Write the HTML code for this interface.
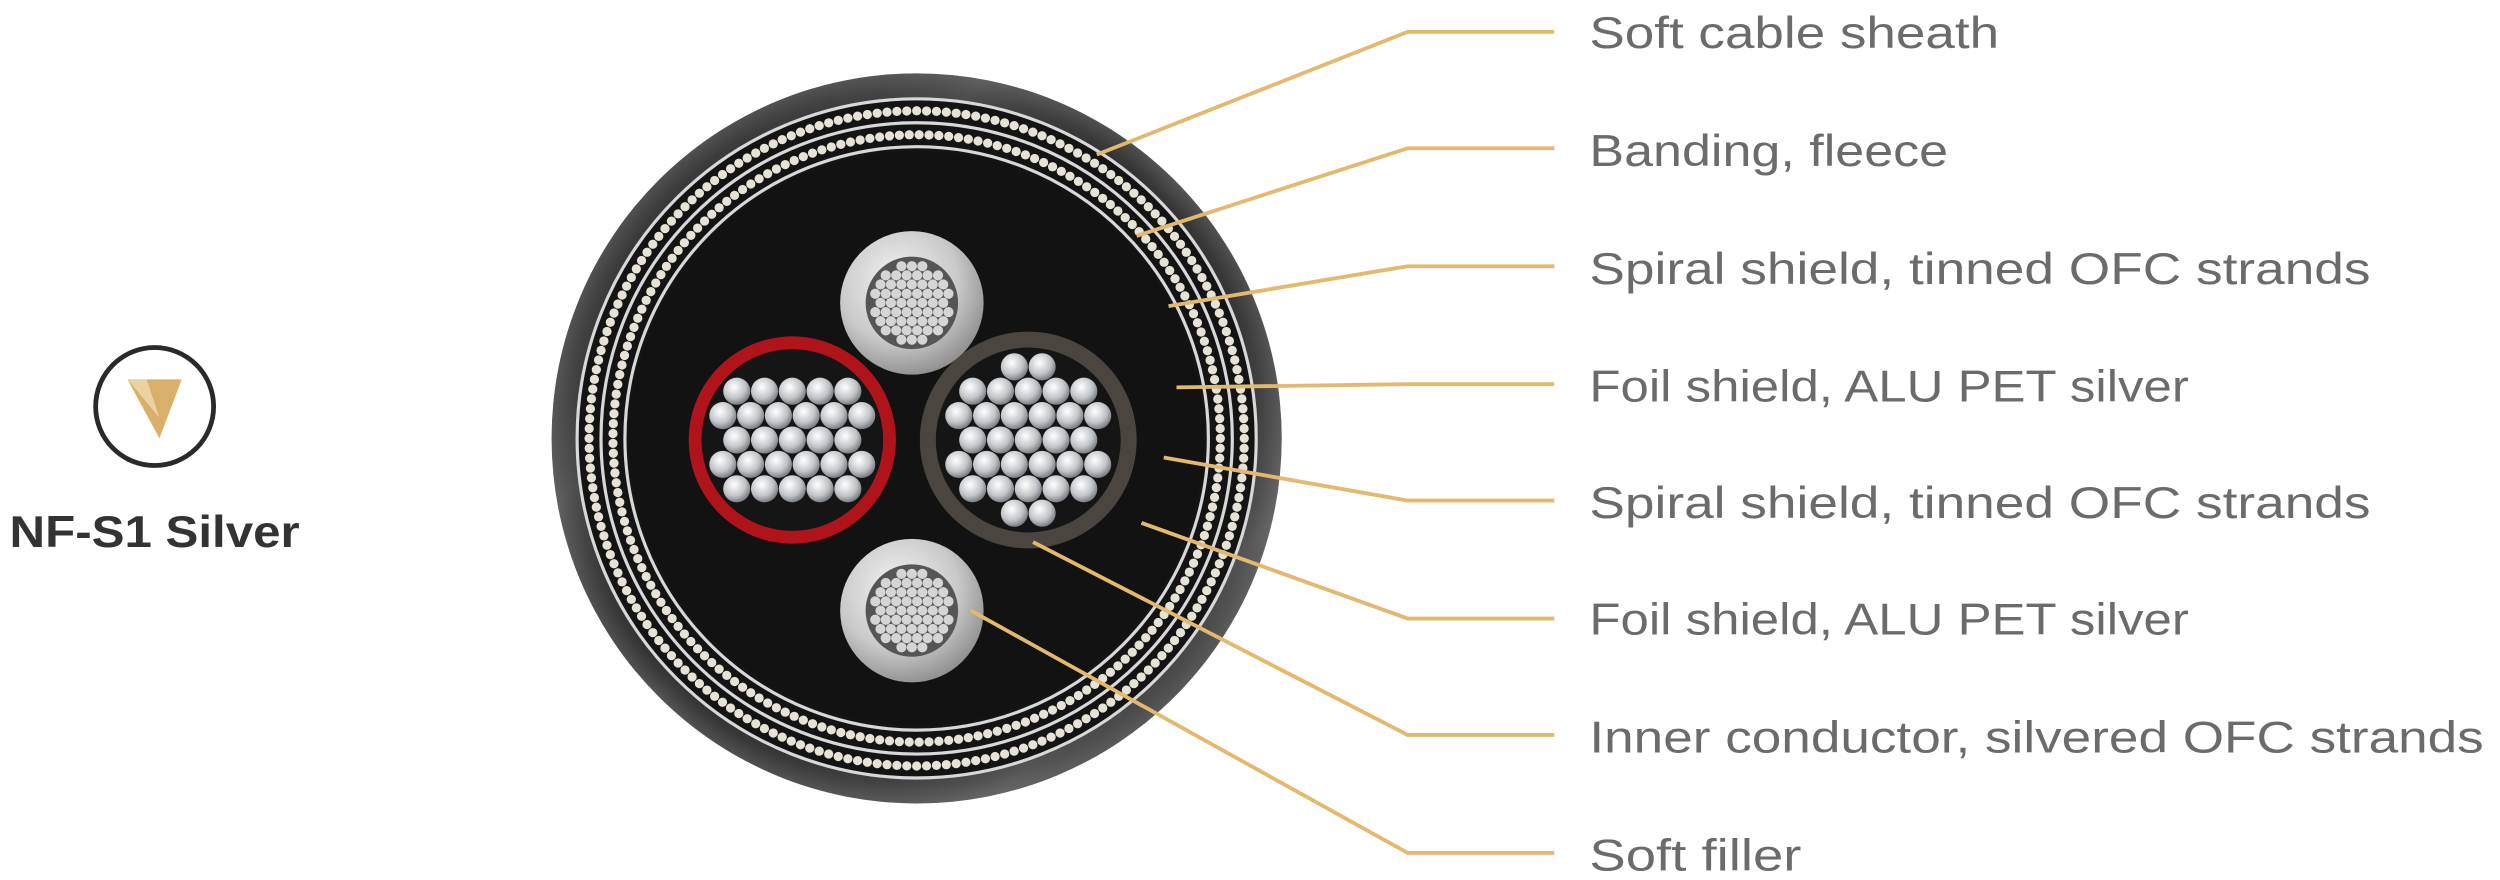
<!DOCTYPE html>
<html><head><meta charset="utf-8"><style>
html,body{margin:0;padding:0;background:#fff;}
svg{display:block;}
text{font-family:"Liberation Sans",sans-serif;}
</style></head><body>
<svg id="s" width="2500" height="880" viewBox="0 0 1568.2 552" preserveAspectRatio="none" xmlns="http://www.w3.org/2000/svg">
<defs>
<radialGradient id="sheath" cx="0.5" cy="0.5" r="0.5">
<stop offset="0.85" stop-color="#1c1c1c"/><stop offset="0.95" stop-color="#3a3a3a"/><stop offset="1" stop-color="#555"/>
</radialGradient>
<linearGradient id="sheen" x1="0" y1="0" x2="1" y2="1">
<stop offset="0" stop-color="#000" stop-opacity="0"/><stop offset="0.3" stop-color="#777" stop-opacity="0.35"/><stop offset="0.5" stop-color="#000" stop-opacity="0"/><stop offset="0.8" stop-color="#888" stop-opacity="0.35"/><stop offset="1" stop-color="#000" stop-opacity="0"/>
</linearGradient>
<radialGradient id="silver" cx="0.4" cy="0.35" r="0.7">
<stop offset="0" stop-color="#f4f4f4"/><stop offset="0.6" stop-color="#c9c9c9"/><stop offset="1" stop-color="#8a8a8a"/>
</radialGradient>
<radialGradient id="strand" cx="0.4" cy="0.35" r="0.7">
<stop offset="0" stop-color="#ffffff"/><stop offset="0.6" stop-color="#c0c4c8"/><stop offset="1" stop-color="#6d7075"/>
</radialGradient>
</defs>
<!-- logo -->
<circle cx="97" cy="255" r="37" fill="#fff" stroke="#2a2a2a" stroke-width="3"/>
<polygon points="80,238 114,238 100,275" fill="#d9b06a"/>
<polygon points="80,238 92,238 100,262" fill="#ecd2a0"/>
<text x="6" y="343" font-size="28" font-weight="bold" fill="#333" textLength="182" lengthAdjust="spacingAndGlyphs">NF-S1 Silver</text>
<!-- cable -->
<circle cx="575" cy="275" r="229" fill="url(#sheath)"/>
<circle cx="575" cy="275" r="229" fill="url(#sheen)"/>
<circle cx="575" cy="275" r="214" fill="#141414"/>
<g id="rings"></g>
<circle cx="575" cy="275" r="180" fill="#121212"/>
<g id="cores"></g>
<!-- leaders -->
<g stroke="#e3b86f" stroke-width="2.4" fill="none">
<polyline points="975,20 883,20 688,97"/>
<polyline points="975,93 883,93 713,148"/>
<polyline points="975,167 883,167 733,192"/>
<polyline points="975,241 883,241 738,243"/>
<polyline points="975,314 883,314 730,287"/>
<polyline points="975,388 883,388 716,328"/>
<polyline points="975,461 883,461 648,340"/>
<polyline points="975,535 883,535 609,383"/>
</g>
<g font-size="28" fill="#6b6b6b" lengthAdjust="spacingAndGlyphs">
<text x="997" y="30" textLength="257" lengthAdjust="spacingAndGlyphs">Soft cable sheath</text>
<text x="997" y="104" textLength="225" lengthAdjust="spacingAndGlyphs">Banding, fleece</text>
<text x="997" y="178" textLength="490" lengthAdjust="spacingAndGlyphs">Spiral shield, tinned OFC strands</text>
<text x="997" y="252" textLength="376" lengthAdjust="spacingAndGlyphs">Foil shield, ALU PET silver</text>
<text x="997" y="325" textLength="490" lengthAdjust="spacingAndGlyphs">Spiral shield, tinned OFC strands</text>
<text x="997" y="398" textLength="376" lengthAdjust="spacingAndGlyphs">Foil shield, ALU PET silver</text>
<text x="997" y="472" textLength="561" lengthAdjust="spacingAndGlyphs">Inner conductor, silvered OFC strands</text>
<text x="997" y="546" textLength="133" lengthAdjust="spacingAndGlyphs">Soft filler</text>
</g>
</svg>
<script>
var NS="http://www.w3.org/2000/svg";
function el(p,t,a){var e=document.createElementNS(NS,t);for(var k in a)e.setAttribute(k,a[k]);p.appendChild(e);return e;}
var cx=575,cy=275;
var R=document.getElementById("rings");
[213,198,183].forEach(function(r){el(R,"circle",{cx:cx,cy:cy,r:r,fill:"none",stroke:"#d8d8d8","stroke-width":2});});
[205.5,190.5].forEach(function(r){var n=Math.round(2*Math.PI*r/6.2);for(var i=0;i<n;i++){var a=i/n*2*Math.PI;el(R,"ellipse",{cx:cx+r*Math.cos(a),cy:cy+r*Math.sin(a),rx:2.9,ry:2.9,fill:"#e6e2d6"});}});
var C=document.getElementById("cores");
function fill(x,y,rad,sr,g){var dy=sr*2*0.9,dx=sr*2.05;for(var j=-10;j<=10;j++)for(var i=-10;i<=10;i++){var px=x+i*dx+(j%2?dx/2:0),py=y+j*dy;if(Math.hypot(px-x,py-y)<=rad-sr)el(C,"circle",{cx:px,cy:py,r:sr,fill:g});}}
[[572,190],[572,383]].forEach(function(p){el(C,"circle",{cx:p[0],cy:p[1],r:45,fill:"url(#silver)"});el(C,"circle",{cx:p[0],cy:p[1],r:29,fill:"#555"});fill(p[0],p[1],29,3.2,"#d5d5d5");});
el(C,"circle",{cx:497,cy:276,r:65,fill:"#b0141a"});
el(C,"circle",{cx:497,cy:276,r:57,fill:"#151515"});
fill(497,276,55,8.5,"url(#strand)");
el(C,"circle",{cx:645,cy:276,r:68,fill:"#4a463f"});
el(C,"circle",{cx:645,cy:276,r:58,fill:"#151515"});
fill(645,276,56,8.5,"url(#strand)");
</script>
</body></html>
